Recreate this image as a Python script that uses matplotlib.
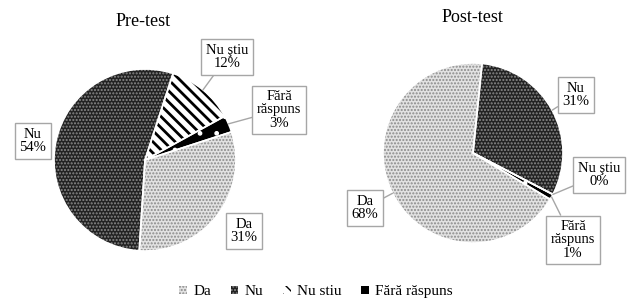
import matplotlib.pyplot as plt
import numpy as np
from matplotlib.patches import Patch

categories = ['Da', 'Nu', 'Nu ştiu', 'Fără răspuns']
legend_labels = ['Da', 'Nu', 'Nu stiu', 'Fără răspuns']
pre_values = [31, 54, 12, 3]
post_values = [68, 31, 0, 1]

# fill, hatch, hatch colour per category
faces = ['#e2e2e2', '#222222', 'white', 'black']
hatches = ['.....', '.....', '\\\\\\', '.']
hatch_colors = ['#8a8a8a', '#8a8a8a', 'black', 'white']

plt.rcParams['font.family'] = ['Liberation Serif', 'DejaVu Serif']

fig = plt.figure(figsize=(6.32, 3.01), dpi=100)
ax = fig.add_axes([0, 0, 1, 1])


def draw_pie(values, center, radius, startangle):
    wedges, _ = ax.pie(values, center=center, radius=radius, startangle=startangle,
                       counterclock=False, colors=faces, frame=False,
                       wedgeprops=dict(linewidth=0))
    for w, h, hc in zip(wedges, hatches, hatch_colors):
        w.set_hatch(h)
        w.set_edgecolor(hc)
        if hasattr(w, 'set_hatch_linewidth'):
            w.set_hatch_linewidth(2.0 if '\\' in h else 1.0)
    # white separators on top
    ax.pie(values, center=center, radius=radius, startangle=startangle,
           counterclock=False, colors=['none'] * len(values), frame=False,
           wedgeprops=dict(linewidth=1.2, edgecolor='white'))
    return wedges


def label_slices(wedges, center, radius, values, positions, leaders):
    for w, name, v, pos, lead in zip(wedges, categories, values, positions, leaders):
        mid = np.deg2rad((w.theta1 + w.theta2) / 2)
        xy = (center[0] + radius * np.cos(mid), center[1] + radius * np.sin(mid))
        text = name.replace('Fără răspuns', 'Fără\nrăspuns') + '\n%d%%' % v
        ax.annotate(text, xy=xy, xytext=pos, ha='center', va='center',
                    fontsize=10.5, linespacing=1.05,
                    bbox=dict(boxstyle='square,pad=0.3', fc='white', ec='#a6a6a6', lw=1),
                    arrowprops=dict(arrowstyle='-', color='#a6a6a6', lw=1,
                                    shrinkA=0, shrinkB=0) if lead else None)


pre_center, post_center = (145, 141), (473, 148)
pre_w = draw_pie(pre_values, pre_center, 91, 18)
post_w = draw_pie(post_values, post_center, 90, -31)

label_slices(pre_w, pre_center, 91, pre_values,
             [(244, 70), (33, 160), (227, 244), (279, 191)],
             [False, False, True, True])
label_slices(post_w, post_center, 90, post_values,
             [(365, 93), (576, 206), (599, 126), (573, 61)],
             [True, True, True, True])

ax.text(143, 279, 'Pre-test', ha='center', va='center', fontsize=13)
ax.text(472, 283, 'Post-test', ha='center', va='center', fontsize=13)

ax.set_xlim(0, 632)
ax.set_ylim(0, 301)
ax.set_aspect('equal')
ax.axis('off')

handles = [Patch(facecolor=f, edgecolor=hc, hatch=h, linewidth=0)
           for f, h, hc in zip(faces, hatches, hatch_colors)]
fig.legend(handles, legend_labels, loc='center', bbox_to_anchor=(0.5, 0.03),
           ncol=4, frameon=False, fontsize=11, handlelength=0.5, handleheight=0.5,
           handletextpad=0.4, columnspacing=1.3)

fig.savefig('out.png', dpi=100)
